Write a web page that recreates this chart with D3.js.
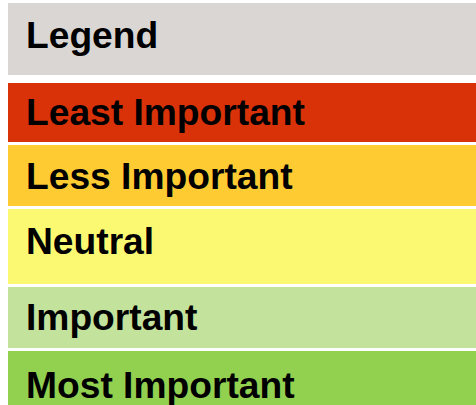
<!DOCTYPE html>
<html>
<head>
<meta charset="utf-8">
<script src="https://cdn.jsdelivr.net/npm/d3@7"></script>
<style>
  html, body { margin: 0; padding: 0; background: #ffffff; }
  svg { display: block; }
</style>
</head>
<body>
<svg id="chart" width="476" height="405"></svg>
<script>
// Data
const labels = ["Legend", "Least Important", "Less Important", "Neutral", "Important", "Most Important"];
const colors = ["#d9d6d4", "#d93208", "#ffcb33", "#fbf972", "#c3e29b", "#92d050"];

// Layout (band edges in pixels and text baselines)
const bandTop = [3, 83, 145, 209, 287, 351];
const bandBottom = [75, 142, 206, 284, 348, 405];
const baselines = [48, 125, 189, 254, 330, 398];

const svg = d3.select("#chart");
const g = svg.selectAll("g.band")
  .data(labels.map((l, i) => ({ label: l, color: colors[i], top: bandTop[i], bottom: bandBottom[i], base: baselines[i] })))
  .join("g").attr("class", "band");

g.append("rect")
  .attr("x", 8)
  .attr("y", d => d.top)
  .attr("width", 476 - 8)
  .attr("height", d => d.bottom - d.top)
  .attr("fill", d => d.color);

g.append("text")
  .attr("x", 26)
  .attr("y", d => d.base)
  .attr("font-family", "'Liberation Sans', Arial, sans-serif")
  .attr("font-weight", "bold")
  .attr("font-size", 37.2)
  .attr("fill", "#000")
  .text(d => d.label);
</script>
</body>
</html>
